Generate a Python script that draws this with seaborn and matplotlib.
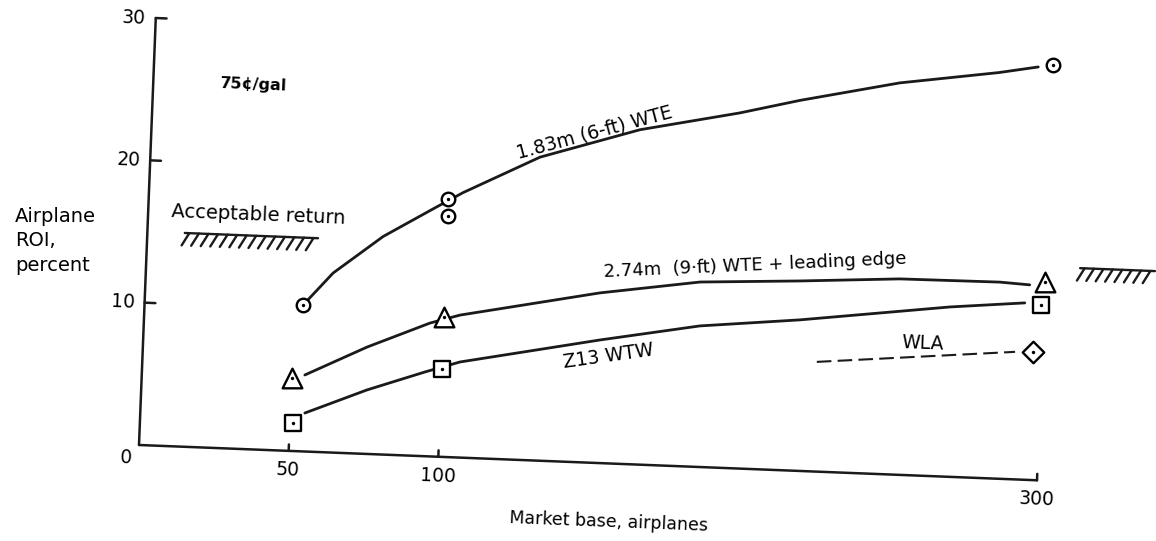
import numpy as np
import matplotlib.pyplot as plt
import matplotlib.patheffects as pe
from matplotlib.transforms import Affine2D
import seaborn as sns

# traced curves (market base, airplanes -> airplane ROI, percent)
wte6_x = [53, 62.5, 78.7, 95.6, 104.8, 130, 163, 196, 216, 249, 282, 295]
wte6_y = [10.3, 12.6, 15.3, 17.45, 18.6, 21.3, 23.5, 24.95, 26.0, 27.5, 28.5, 29.0]
wte9_x = [54.4, 74.8, 95.5, 105.4, 151.7, 185, 218.3, 251.6, 285, 295]
wte9_y = [5.37, 7.5, 9.36, 10.0, 11.94, 12.98, 13.33, 13.75, 13.8, 13.69]
z13_x = [54.9, 75.3, 94.4, 106, 152.4, 185.5, 218.8, 268.7, 293.6]
z13_y = [2.70, 4.49, 5.91, 6.71, 8.64, 9.9, 10.6, 11.92, 12.41]
wla_x = [225, 291]
wla_y = [7.7, 8.95]

# plotted points
wte6_pts_x = [53, 100, 100, 300]
wte6_pts_y = [10.3, 16.9, 18.1, 29.2]
wte9_pts_x = [50, 100, 300]
wte9_pts_y = [5.1, 9.8, 13.9]
z13_pts_x = [51, 100, 299]
z13_pts_y = [2.0, 6.2, 12.3]
wla_pts_x = [297]
wla_pts_y = [9.0]

accept_roi = 15
accept_left = [12.5, 57]
accept_right = [311.6, 336.6]

xticks = [50, 100, 300]
yticks = [0, 10, 20, 30]

sns.set_theme(style="white")
plt.rcParams['font.family'] = ['DejaVu Sans']
plt.rcParams['text.color'] = 'black'

W, H = 1156, 541
fig = plt.figure(figsize=(W / 100, H / 100), dpi=100)
ax = fig.add_axes([139 / W, 96 / H, 898.7 / W, 427.3 / H])
ax.set_xlim(0, 300)
ax.set_ylim(0, 30)
ax.axis('off')

# the scanned figure is tilted a little clockwise
TILT = -2.25
ox, oy = ax.transData.transform((0, 0))
tr = ax.transData + Affine2D().rotate_deg_around(ox, oy, TILT)

lw = 1.8
# axes drawn by hand so they can follow the tilt
ax.plot([0, 0], [0, yticks[-1]], color='k', lw=lw, transform=tr, clip_on=False)
ax.plot([0, xticks[-1]], [0, 0], color='k', lw=lw, transform=tr, clip_on=False)
for t in yticks[1:]:
    ax.plot([0, 3.6], [t, t], color='k', lw=lw, transform=tr, clip_on=False)
    ax.text(-3.2, t, str(t), ha='right', va='center', fontsize=13.5,
            rotation=TILT, transform=tr)
ax.text(-4.2, -0.95, '0', ha='center', va='center', fontsize=13.5,
        rotation=TILT, transform=tr)
for t in xticks:
    ax.plot([t, t], [0, 0.45], color='k', lw=lw, transform=tr, clip_on=False)
    ax.text(t, -1.35, str(t), ha='center', va='center', fontsize=13.5,
            rotation=TILT, transform=tr)

# curves
for cx, cy in [(wte6_x, wte6_y), (wte9_x, wte9_y), (z13_x, z13_y)]:
    sns.lineplot(x=cx, y=cy, color='k', lw=2.0, ax=ax, transform=tr,
                 clip_on=False, estimator=None)
sns.lineplot(x=wla_x, y=wla_y, color='k', lw=1.5, ls=(0, (7, 3)), ax=ax,
             transform=tr, clip_on=False, estimator=None)

# symbols with a centre dot
for px, py, mk, sz in [(wte6_pts_x, wte6_pts_y, 'o', 95),
                       (wte9_pts_x, wte9_pts_y, '^', 200),
                       (z13_pts_x, z13_pts_y, 's', 130),
                       (wla_pts_x, wla_pts_y, 'D', 120)]:
    sns.scatterplot(x=px, y=py, marker=mk, s=sz, color='white', edgecolor='black',
                    linewidth=1.7, ax=ax, transform=tr, clip_on=False, zorder=3)
    sns.scatterplot(x=px, y=py, marker='o', s=6, color='black', linewidth=0,
                    ax=ax, transform=tr, clip_on=False, zorder=4)

# acceptable return marks
hatch = [pe.withTickedStroke(angle=-120, spacing=6.5, length=1.6)]
for seg in (accept_left, accept_right):
    ax.plot(seg, [accept_roi, accept_roi], color='k', lw=1.7, transform=tr,
            clip_on=False, path_effects=hatch)

ax.text(36.7, 16.5, 'Acceptable return', ha='center', va='center', fontsize=14,
        rotation=TILT, transform=tr)
ax.text(33.6, 25.6, '75¢/gal', ha='center', va='center', fontsize=11.5,
        fontweight='bold', rotation=TILT, transform=tr)
ax.text(147.7, 23.2, '1.83m (6-ft) WTE', ha='center', va='center', fontsize=13.5,
        rotation=15, transform=tr)
ax.text(203, 14.3, '2.74m  (9·ft) WTE + leading edge', ha='center', va='center',
        fontsize=13, rotation=2.5, transform=tr)
ax.text(155.3, 7.5, 'Z13 WTW', ha='center', va='center', fontsize=13.5,
        rotation=8, transform=tr)
ax.text(260.1, 9.3, 'WLA', ha='center', va='center', fontsize=13.5,
        rotation=TILT, transform=tr)
ax.text(157.8, -4.1, 'Market base, airplanes', ha='center', va='center',
        fontsize=12.5, rotation=TILT, transform=tr)

fig.text(15 / W, 1 - 241 / H, 'Airplane\nROI,\npercent', ha='left', va='center',
         fontsize=14, linespacing=1.35)

fig.savefig('out.png', dpi=100)
